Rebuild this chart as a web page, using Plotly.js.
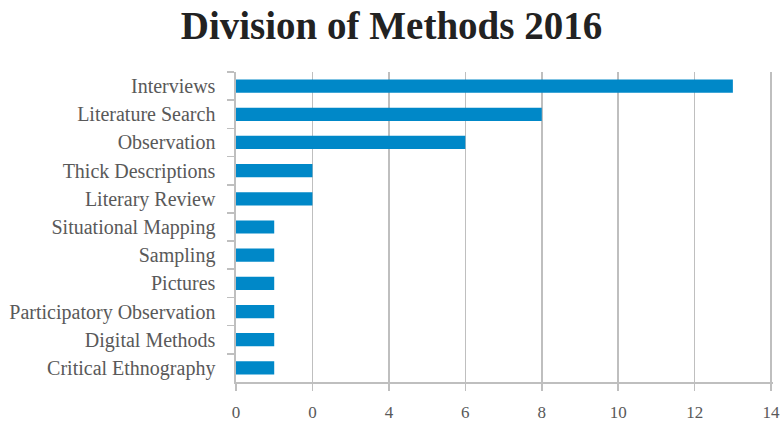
<!DOCTYPE html>
<html>
<head>
<meta charset="utf-8">
<script src="https://cdn.plot.ly/plotly-3.0.1.min.js"></script>
<style>html,body{margin:0;padding:0;background:#fff;}#chart{width:783px;height:424px;}</style>
</head>
<body>
<div id="chart"></div>
<script>
const categories = ["Interviews","Literature Search","Observation","Thick Descriptions","Literary Review","Situational Mapping","Sampling","Pictures","Participatory Observation","Digital Methods","Critical Ethnography"];
const values = [13, 8, 6, 2, 2, 1, 1, 1, 1, 1, 1];
const xTickVals = [0, 2, 4, 6, 8, 10, 12, 14];
const xTickText = ["0", "0", "4", "6", "8", "10", "12", "14"];

const SERIF = "'Times New Roman', 'Liberation Serif', Times, serif";

const trace = {
  type: "bar",
  orientation: "h",
  y: categories,
  x: values,
  width: 0.47,
  marker: {color: "#0088C8"},
  hoverinfo: "none"
};

const layout = {
  width: 783, height: 424,
  margin: {l: 236, r: 10, t: 72, b: 42},
  paper_bgcolor: "#fff", plot_bgcolor: "#fff",
  title: {text: "<b>Division of Methods 2016</b>", x: 0.5, xanchor: "center", y: 0.94, yanchor: "middle",
          font: {family: SERIF, size: 39, color: "#222"}},
  showlegend: false,
  xaxis: {
    range: [0, 14.05], tickvals: xTickVals, ticktext: xTickText,
    showgrid: true, gridcolor: "#BFBFBF", gridwidth: 1.6,
    zeroline: false, showline: true, linecolor: "#BFBFBF", linewidth: 1.6,
    ticks: "outside", ticklen: 7, tickcolor: "#BFBFBF", tickwidth: 1.6,
    ticklabelstandoff: 7,
    tickfont: {family: SERIF, size: 17, color: "#595959"},
    fixedrange: true
  },
  yaxis: {
    type: "category", autorange: "reversed",
    showgrid: false, zeroline: false,
    showline: true, linecolor: "#BFBFBF", linewidth: 1.6,
    ticks: "outside", tickson: "boundaries", ticklen: 7, tickcolor: "#BFBFBF", tickwidth: 1.6,
    ticklabelstandoff: 15,
    tickfont: {family: SERIF, size: 20, color: "#595959"},
    fixedrange: true
  }
};

Plotly.newPlot("chart", [trace], layout, {displayModeBar: false, staticPlot: true});
</script>
</body>
</html>
